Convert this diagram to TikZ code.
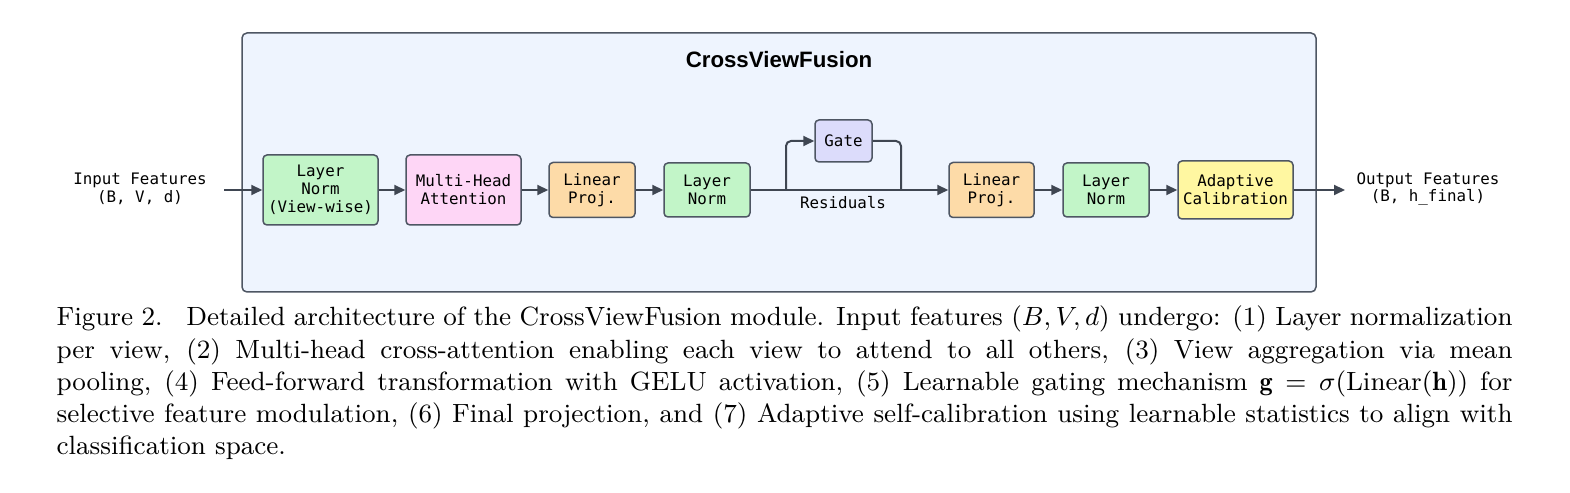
\documentclass[tikz,border=0pt]{standalone}
\usepackage{fontspec}
\newfontfamily\monof{DejaVu Sans Mono}
\newfontfamily\titlef{Liberation Sans}
\usetikzlibrary{arrows.meta}
\def\pxu{0.3412pt}
\definecolor{linec}{HTML}{3F4652}
\definecolor{bordc}{HTML}{4E5663}
\definecolor{outerfill}{HTML}{EEF4FE}
\definecolor{greenf}{HTML}{C2F5C8}
\definecolor{pinkf}{HTML}{FED6F6}
\definecolor{orangef}{HTML}{FDDBA8}
\definecolor{lavf}{HTML}{DCDCFB}
\definecolor{yellowf}{HTML}{FFF7A1}
\tikzset{
  blk/.style={draw=bordc, line width=1.5*\pxu, rounded corners=4*\pxu, align=center,
    inner sep=0pt, font=\monof\fontsize{5.4}{6.1}\selectfont, text=black},
  txt/.style={align=center, inner sep=0pt, font=\monof\fontsize{5.4}{6.1}\selectfont, text=black},
  conn/.style={draw=linec, line width=2*\pxu},
  arr/.style={conn, -{Triangle[length=11*\pxu, width=10*\pxu]}}
}
\begin{document}
\begin{tikzpicture}[x=0.3412pt,y=-0.3412pt]
\useasboundingbox (0,0) rectangle (1570,493);
\fill[white] (0,0) rectangle (1570,493);
% outer container
\node[draw=bordc, fill=outerfill, line width=1.5*\pxu, rounded corners=5*\pxu, inner sep=0pt,
  minimum width=1074*\pxu, minimum height=259*\pxu] (outer) at (779,162.5) {};
\node[inner sep=0pt, font=\titlef\bfseries\fontsize{7.6}{9}\selectfont] (title) at (779,60) {CrossViewFusion};
% blocks
\node[blk, fill=greenf, minimum width=115*\pxu, minimum height=70*\pxu] (ln1) at (320.5,190) {Layer\\Norm\\(View-wise)};
\node[blk, fill=pinkf, minimum width=115*\pxu, minimum height=70*\pxu] (mha) at (463.5,190) {Multi-Head\\Attention};
\node[blk, fill=orangef, minimum width=86*\pxu, minimum height=55*\pxu] (lp1) at (592,190) {Linear\\Proj.};
\node[blk, fill=greenf, minimum width=86*\pxu, minimum height=54*\pxu] (ln2) at (707,190) {Layer\\Norm};
\node[blk, fill=lavf, minimum width=57*\pxu, minimum height=42*\pxu] (gate) at (843.5,141) {Gate};
\node[blk, fill=orangef, minimum width=85*\pxu, minimum height=55*\pxu] (lp2) at (991.5,190) {Linear\\Proj.};
\node[blk, fill=greenf, minimum width=86*\pxu, minimum height=54*\pxu] (ln3) at (1106,190) {Layer\\Norm};
\node[blk, fill=yellowf, minimum width=115*\pxu, minimum height=58*\pxu] (cal) at (1235.5,190) {Adaptive\\Calibration};
% external labels
\node[txt] (inp) at (140,189) {Input Features\\(B, V, d)};
\node[txt] (outp) at (1428,189) {Output Features\\(B, h\_final)};
\node[txt] (res) at (843,203) {Residuals};
% coordinates
\coordinate (inS) at (224,190);
\coordinate (outE) at (1345,190);
\coordinate (b1) at (786,190);
\coordinate (b2) at (901,190);
% connectors
\draw[arr] (inS) -- (ln1.west);
\draw[arr] (ln1.east) -- (mha.west);
\draw[arr] (mha.east) -- (lp1.west);
\draw[arr] (lp1.east) -- (ln2.west);
\draw[arr] (ln2.east) -- (lp2.west);
\draw[arr, rounded corners=5*\pxu] (b1) |- (gate.west);
\draw[conn, rounded corners=5*\pxu] (gate.east) -| (b2);
\draw[arr] (lp2.east) -- (ln3.west);
\draw[arr] (ln3.east) -- (cal.west);
\draw[arr] (cal.east) -- (outE);
% caption
\node[anchor=base west, inner sep=0pt, text width=496.8pt, align=justify,
  font=\fontsize{9}{11}\selectfont] (cap) at (56,326) {Figure 2.\hspace{0.9em}Detailed architecture of the CrossViewFusion module. Input features $(B, V, d)$ undergo: (1) Layer normalization\linebreak
per view, (2) Multi-head cross-attention enabling each view to attend to all others, (3) View aggregation via mean\linebreak
pooling, (4) Feed-forward transformation with GELU activation, (5) Learnable gating mechanism $\mathbf{g} = \sigma(\mathrm{Linear}(\mathbf{h}))$ for\linebreak
selective feature modulation, (6) Final projection, and (7) Adaptive self-calibration using learnable statistics to align with\linebreak
classification space.};
\end{tikzpicture}
\end{document}
